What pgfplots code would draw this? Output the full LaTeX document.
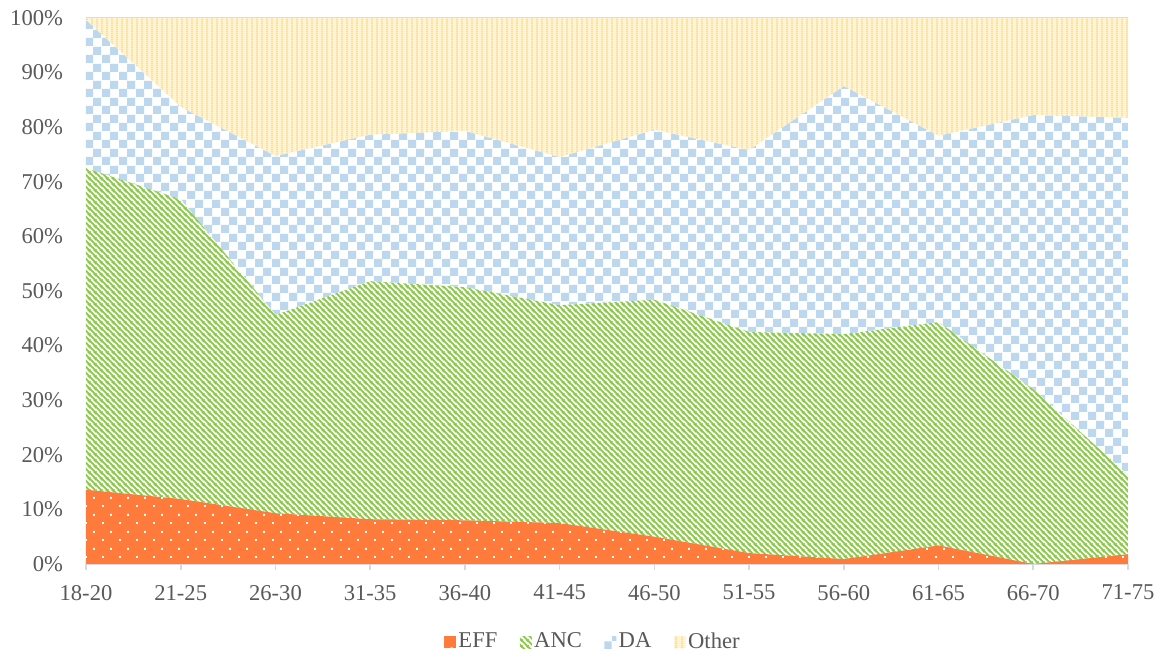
\documentclass[border=0pt]{standalone}
\usepackage{fontspec}
\setmainfont{Liberation Serif}
\usepackage{pgfplots}
\usepackage{pgfplotstable}
\pgfplotsset{compat=1.18}
\usetikzlibrary{patterns.meta}

\definecolor{effor}{HTML}{FF7B3B}
\definecolor{ancgreen}{HTML}{8CC84C}
\definecolor{dablue}{HTML}{BDD7EE}
\definecolor{othyellow}{HTML}{FFE08A}
\definecolor{othlight}{HTML}{FFF4D4}
\definecolor{axisgray}{HTML}{D9D9D9}
\definecolor{labelgray}{HTML}{595959}

% white dots on the EFF area, staggered rows
\pgfdeclarepattern{
  name=effdots, type=uncolored,
  bottom left={\pgfpoint{0pt}{0pt}},
  top right={\pgfpoint{8.5pt}{8.3pt}},
  tile size={\pgfpoint{8.5pt}{8.3pt}},
  code={
    \pgfpathrectangle{\pgfpoint{0pt}{0pt}}{\pgfpoint{1pt}{1pt}}
    \pgfpathrectangle{\pgfpoint{4.25pt}{4.15pt}}{\pgfpoint{1pt}{1pt}}
    \pgfusepath{fill}
  }
}
% downward diagonal stripes for ANC
\pgfdeclarepattern{
  name=ancstripes, type=uncolored,
  bottom left={\pgfpoint{0pt}{0pt}},
  top right={\pgfpoint{3pt}{3pt}},
  tile size={\pgfpoint{3pt}{3pt}},
  code={
    \pgfsetlinewidth{1pt}
    \pgfpathmoveto{\pgfpoint{-1pt}{4pt}}\pgfpathlineto{\pgfpoint{4pt}{-1pt}}
    \pgfpathmoveto{\pgfpoint{-1pt}{1pt}}\pgfpathlineto{\pgfpoint{1pt}{-1pt}}
    \pgfpathmoveto{\pgfpoint{2pt}{4pt}}\pgfpathlineto{\pgfpoint{4pt}{2pt}}
    \pgfusepath{stroke}
  }
}
% checkerboard for DA
\pgfdeclarepattern{
  name=dacheck, type=uncolored,
  bottom left={\pgfpoint{0pt}{0pt}},
  top right={\pgfpoint{8.5pt}{8.5pt}},
  tile size={\pgfpoint{8.5pt}{8.5pt}},
  code={
    \pgfpathrectangle{\pgfpoint{0pt}{0pt}}{\pgfpoint{4.25pt}{4.25pt}}
    \pgfpathrectangle{\pgfpoint{4.25pt}{4.25pt}}{\pgfpoint{4.25pt}{4.25pt}}
    \pgfusepath{fill}
  }
}
% vertical stripes for Other
\pgfdeclarepattern{
  name=othstripes, type=uncolored,
  bottom left={\pgfpoint{0pt}{0pt}},
  top right={\pgfpoint{2.7pt}{1pt}},
  tile size={\pgfpoint{2.7pt}{1pt}},
  code={
    \pgfpathrectangle{\pgfpoint{0pt}{0pt}}{\pgfpoint{1.1pt}{1pt}}
    \pgfusepath{fill}
  }
}

% shares (%) per age group
\pgfplotstableread{
x  EFF  ANC  DA   Other
0  13.6 58.9 27.1 0.4
1  11.9 54.9 16.9 16.3
2  9.3  36.3 29.1 25.3
3  8.2  43.6 26.8 21.4
4  8.0  42.7 28.6 20.7
5  7.5  39.9 27.1 25.5
6  5.0  43.4 31.1 20.5
7  2.0  40.5 33.3 24.2
8  0.9  41.2 45.4 12.5
9  3.4  40.9 34.1 21.6
10 0.0  32.0 50.2 17.8
11 1.8  14.5 65.4 18.3
}\shares

\begin{document}
\begin{tikzpicture}
\begin{axis}[
  scale only axis,
  width=521pt, height=273pt,
  xmin=0, xmax=11, ymin=0, ymax=100,
  stack plots=y,
  axis x line*=bottom, axis y line*=left,
  y axis line style={draw=none},
  x axis line style={axisgray, line width=0.8pt},
  xtick={0,...,11},
  xticklabels={18-20,21-25,26-30,31-35,36-40,41-45,46-50,51-55,56-60,61-65,66-70,71-75},
  ytick={0,10,...,100},
  yticklabel={\pgfmathprintnumber{\tick}\%},
  /pgf/number format/assume math mode=true,
  tick align=outside,
  xtick style={axisgray, line width=0.8pt},
  ytick style={draw=none},
  major tick length=3pt,
  ymajorgrids,
  grid style={axisgray, line width=0.8pt},
  every tick label/.append style={font=\fontsize{11.3}{13}\selectfont, text=labelgray},
  xticklabel style={yshift=-4pt},
  yticklabel style={xshift=-5pt},
  every axis plot/.append style={mark=none, draw=none,
    legend image code/.code={\path[##1] (0pt,-3pt) rectangle (6pt,3pt);}},
  legend style={at={(0.4866,-0.1429)}, anchor=center, draw=none,
    legend columns=-1, font=\fontsize{11.3}{13}\selectfont, text=labelgray,
    /tikz/every even column/.append style={column sep=10pt},
    nodes={inner sep=1.2pt}},
]
\addplot[fill=effor, postaction={pattern=effdots, pattern color=white}]
  table[x=x, y=EFF] {\shares} \closedcycle;
\addplot[fill=white, postaction={pattern=ancstripes, pattern color=ancgreen}]
  table[x=x, y=ANC] {\shares} \closedcycle;
\addplot[fill=white, postaction={pattern=dacheck, pattern color=dablue}]
  table[x=x, y=DA] {\shares} \closedcycle;
\addplot[fill=othlight, postaction={pattern=othstripes, pattern color=othyellow}]
  table[x=x, y=Other] {\shares} \closedcycle;
\legend{EFF, ANC, DA, Other}
\end{axis}
\path (-43pt,-44.5pt) rectangle (538.5pt,282pt);
\end{tikzpicture}
\end{document}
